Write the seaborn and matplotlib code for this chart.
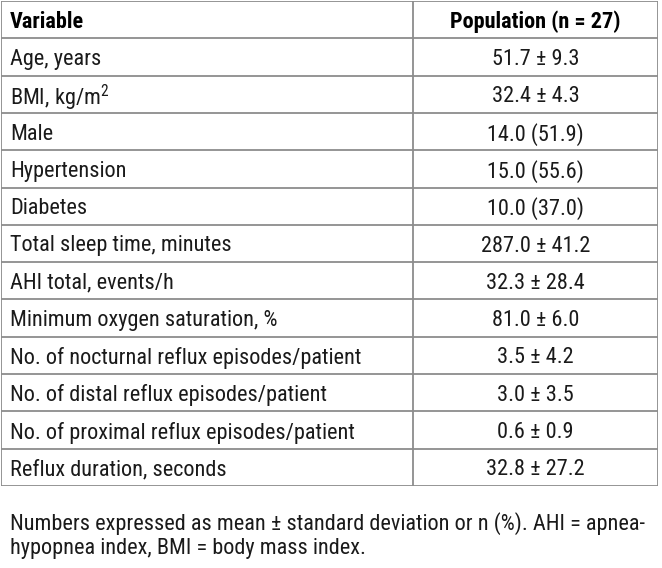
import matplotlib
matplotlib.use("Agg")
import matplotlib.pyplot as plt
import seaborn as sns

# table content
header = ["Variable", "Population (n = 27)"]
variables = [
    "Age, years",
    r"BMI, kg/m$^{2}$",
    "Male",
    "Hypertension",
    "Diabetes",
    "Total sleep time, minutes",
    "AHI total, events/h",
    "Minimum oxygen saturation, %",
    "No. of nocturnal reflux episodes/patient",
    "No. of distal reflux episodes/patient",
    "No. of proximal reflux episodes/patient",
    "Reflux duration, seconds",
]
values = [
    "51.7 ± 9.3",
    "32.4 ± 4.3",
    "14.0 (51.9)",
    "15.0 (55.6)",
    "10.0 (37.0)",
    "287.0 ± 41.2",
    "32.3 ± 28.4",
    "81.0 ± 6.0",
    "3.5 ± 4.2",
    "3.0 ± 3.5",
    "0.6 ± 0.9",
    "32.8 ± 27.2",
]
footnote = [
    "Numbers expressed as mean ± standard deviation or n (%). AHI = apnea-",
    "hypopnea index, BMI = body mass index.",
]

sns.set_theme(style="white")
plt.rcParams["font.family"] = ["Roboto Condensed", "Liberation Sans", "DejaVu Sans"]
plt.rcParams["mathtext.fontset"] = "custom"
plt.rcParams["mathtext.rm"] = "Roboto Condensed"
plt.rcParams["mathtext.it"] = "Roboto Condensed"

W, H = 662, 568
fig = plt.figure(figsize=(W / 100, H / 100), dpi=100)
fig.patch.set_facecolor("white")

left, right, top, bottom = 1, 658, 1, 486
ax = fig.add_axes([left / W, 1 - bottom / H, (right - left) / W, (bottom - top) / H])
n_rows = len(variables) + 1
split = (413 - left) / (right - left)
ax.set_xlim(0, 1)
ax.set_ylim(n_rows, 0)
ax.axis("off")

line_kw = dict(color="#8c8c8c", linewidth=1.3)
ax.hlines(range(n_rows + 1), 0, 1, **line_kw)
ax.vlines([0, split, 1], 0, n_rows, **line_kw)

pad = 9 / (right - left)
fs = 16
txt_color = "#1a1a1a"
ax.text(pad, 0.5, header[0], ha="left", va="center_baseline", fontsize=fs,
        fontweight="bold", color="black")
ax.text((split + 1) / 2, 0.5, header[1], ha="center", va="center_baseline", fontsize=fs,
        fontweight="bold", color="black")
for i, (var, val) in enumerate(zip(variables, values), start=1):
    ax.text(pad, i + 0.5, var, ha="left", va="center_baseline", fontsize=fs, color=txt_color)
    ax.text((split + 1) / 2, i + 0.5, val, ha="center", va="center_baseline", fontsize=fs, color=txt_color)

for j, line in enumerate(footnote):
    fig.text(10 / W, 1 - (521 + j * 25) / H, line, ha="left", va="center_baseline",
             fontsize=fs, color=txt_color)

fig.savefig("out.png", dpi=100, facecolor="white")
